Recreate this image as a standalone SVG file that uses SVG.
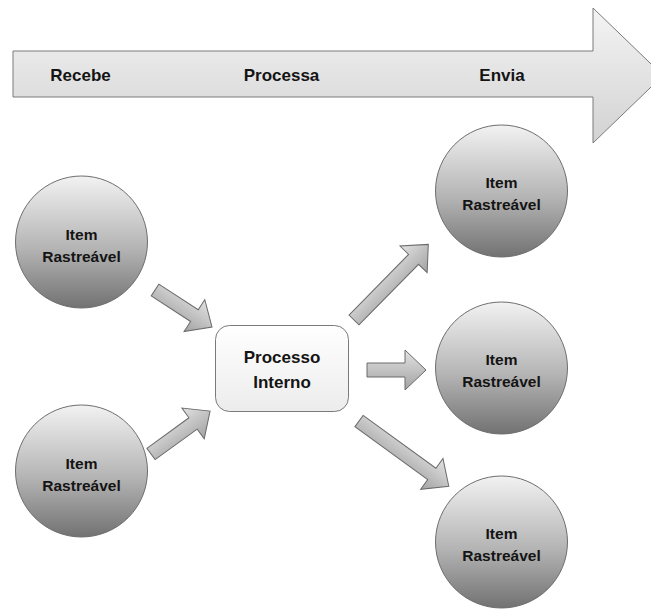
<svg xmlns="http://www.w3.org/2000/svg" width="651" height="609" viewBox="0 0 651 609">
  <style>
    .lbl { font-family: "Liberation Sans", Arial, sans-serif; font-weight: bold; fill: #141414; text-anchor: middle; }
    .big { font-size: 17px; }
    .small { font-size: 15.5px; }
    .item { fill: url(#ballFill); stroke: #6e6e6e; stroke-width: 1; }
    .flow { fill: url(#flowFill); stroke: #6a6a6a; stroke-width: 1; }
  </style>
  <defs>
    <linearGradient id="bandFill" x1="0" y1="0" x2="0" y2="1">
      <stop offset="0" stop-color="#f4f4f4"/>
      <stop offset="1" stop-color="#d2d2d2"/>
    </linearGradient>
    <linearGradient id="ballFill" x1="0" y1="0" x2="0" y2="1">
      <stop offset="0" stop-color="#f2f2f2"/>
      <stop offset="0.55" stop-color="#b4b4b4"/>
      <stop offset="1" stop-color="#727272"/>
    </linearGradient>
    <linearGradient id="boxFill" x1="0" y1="0" x2="0" y2="1">
      <stop offset="0" stop-color="#ffffff"/>
      <stop offset="1" stop-color="#ececec"/>
    </linearGradient>
    <linearGradient id="flowFill" x1="0" y1="0" x2="0" y2="1">
      <stop offset="0" stop-color="#e2e2e2"/>
      <stop offset="1" stop-color="#a2a2a2"/>
    </linearGradient>
  </defs>

  <!-- timeline band -->
  <g id="timeline">
    <path d="M13,51 H593 V8 L663,75.5 L593,143 V97 H13 Z" fill="url(#bandFill)" stroke="#7a7a7a" stroke-width="1"/>
    <text class="lbl big" x="80.5" y="81">Recebe</text>
    <text class="lbl big" x="281.5" y="81">Processa</text>
    <text class="lbl big" x="502" y="81">Envia</text>
  </g>

  <!-- connectors: block arrows, drawn along +x then rotated -->
  <g id="connectors">
    <path class="flow" transform="translate(155,290) rotate(33)" d="M0,-7 H47 V-19 L68,0 L47,19 V7 H0 Z"/>
    <path class="flow" transform="translate(151,454) rotate(-36)" d="M0,-7 H52 V-19 L73,0 L52,19 V7 H0 Z"/>
    <path class="flow" transform="translate(354,320) rotate(-45.5)" d="M0,-7 H85 V-19 L106,0 L85,19 V7 H0 Z"/>
    <path class="flow" transform="translate(367,370)" d="M0,-7 H38 V-20 L59,0 L38,20 V7 H0 Z"/>
    <path class="flow" transform="translate(359,421) rotate(36)" d="M0,-7 H90 V-19 L111,0 L90,19 V7 H0 Z"/>
  </g>

  <g id="src-top">
    <circle class="item" cx="81.5" cy="242" r="66"/>
    <text class="lbl small" x="81.5" y="240">Item</text>
    <text class="lbl small" x="81.5" y="262">Rastreável</text>
  </g>
  <g id="src-bottom">
    <circle class="item" cx="81.5" cy="471" r="66"/>
    <text class="lbl small" x="81.5" y="469">Item</text>
    <text class="lbl small" x="81.5" y="491">Rastreável</text>
  </g>

  <g id="process">
    <rect x="215.5" y="325.5" width="133" height="86" rx="14" fill="url(#boxFill)" stroke="#7a7a7a" stroke-width="1"/>
    <text class="lbl big" x="282" y="363">Processo</text>
    <text class="lbl big" x="282" y="388">Interno</text>
  </g>

  <g id="dst-top">
    <circle class="item" cx="501.5" cy="191" r="66"/>
    <text class="lbl small" x="501.5" y="188">Item</text>
    <text class="lbl small" x="501.5" y="210">Rastreável</text>
  </g>
  <g id="dst-middle">
    <circle class="item" cx="501.5" cy="368" r="66"/>
    <text class="lbl small" x="501.5" y="365">Item</text>
    <text class="lbl small" x="501.5" y="387">Rastreável</text>
  </g>
  <g id="dst-bottom">
    <circle class="item" cx="501.5" cy="542" r="66"/>
    <text class="lbl small" x="501.5" y="539">Item</text>
    <text class="lbl small" x="501.5" y="561">Rastreável</text>
  </g>
</svg>
